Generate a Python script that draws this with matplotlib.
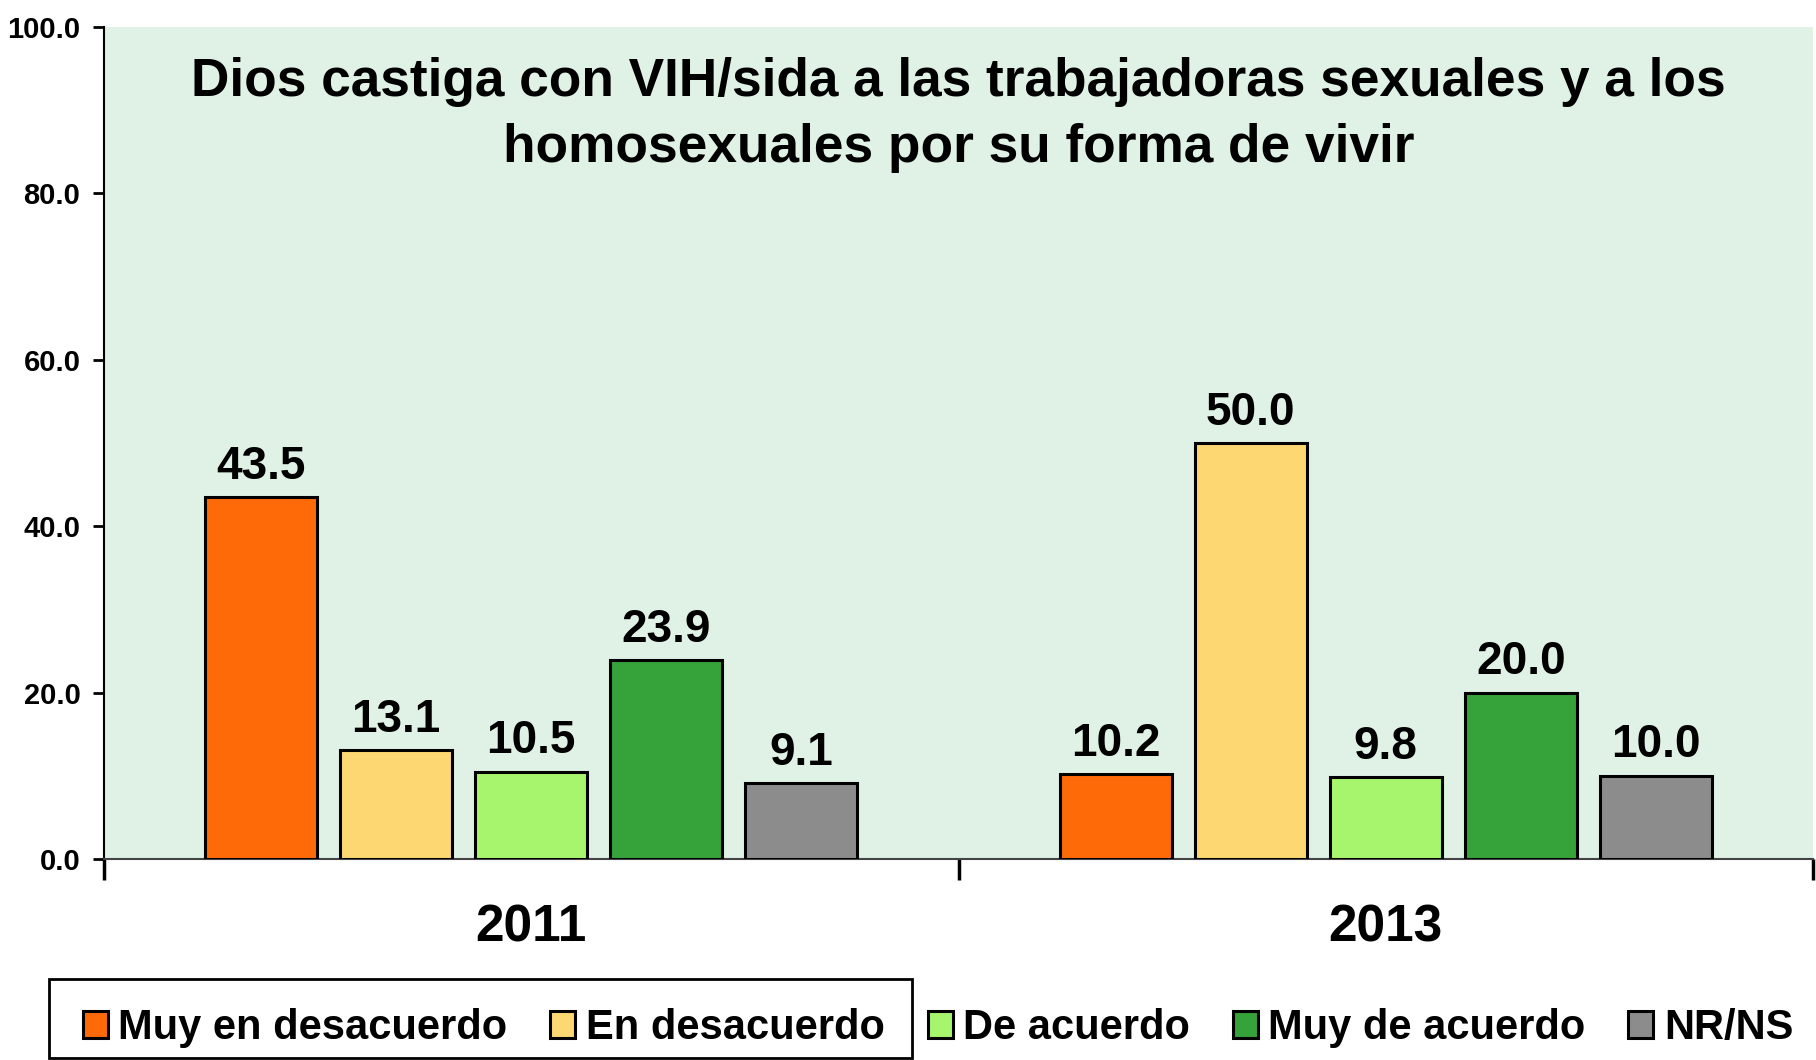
import matplotlib
matplotlib.use("Agg")
import matplotlib.pyplot as plt
import matplotlib.patches as mpatches
import numpy as np

plt.rcParams['font.family'] = ['Liberation Sans', 'DejaVu Sans']

years = ["2011", "2013"]
series = ["Muy en desacuerdo", "En desacuerdo", "De acuerdo", "Muy de acuerdo", "NR/NS"]
values_2011 = [43.5, 13.1, 10.5, 23.9, 9.1]
values_2013 = [10.2, 50.0, 9.8, 20.0, 10.0]
colors = ["#FF6A08", "#FDD872", "#A6F56C", "#36A23A", "#8C8C8C"]
yticks = [0, 20, 40, 60, 80, 100]
title = "Dios castiga con VIH/sida a las trabajadoras sexuales y a los\nhomosexuales por su forma de vivir"

W, H = 1816, 1060
fig = plt.figure(figsize=(W / 100, H / 100), dpi=100)
ax = fig.add_axes([104 / W, 1 - 859 / H, (1813 - 104) / W, (859 - 27) / H])
ax.set_facecolor("#E0F1E5")

data = np.array([values_2011, values_2013])
x = np.arange(len(years))
slot = 0.158
bw = 0.131
handles = []
for i, name in enumerate(series):
    pos = x + (i - 2) * slot
    bars = ax.bar(pos, data[:, i], width=bw, color=colors[i], edgecolor="black",
                  linewidth=2.2, label=name, zorder=3)
    handles.append(bars)
    for b, v in zip(bars, data[:, i]):
        ax.annotate(f"{v:.1f}", (b.get_x() + b.get_width() / 2, v),
                    xytext=(0, 6), textcoords="offset points",
                    ha="center", va="bottom", fontsize=33, fontweight="bold")

ax.set_xlim(-0.5, 1.5)
ax.set_ylim(0, 100)
ax.set_yticks(yticks)
ax.set_yticklabels([f"{t:.1f}" for t in yticks], fontsize=21, fontweight="bold",
                   family=['Liberation Sans Narrow', 'Liberation Sans'])
ax.tick_params(axis="y", direction="out", length=8, width=2, pad=9)

ax.set_xticks(x)
ax.set_xticklabels(years, fontsize=37, fontweight="bold")
ax.tick_params(axis="x", which="major", length=0, pad=32)
ax.set_xticks([-0.5, 0.5, 1.5], minor=True)
ax.tick_params(axis="x", which="minor", direction="out", length=15, width=2.5)

for s in ["top", "right"]:
    ax.spines[s].set_visible(False)
ax.spines["left"].set_linewidth(1.5)
ax.spines["bottom"].set_color("#444444")
ax.spines["bottom"].set_linewidth(1.5)

ax.text(0.5, (859 - 115) / (859 - 27), title, transform=ax.transAxes, ha="center",
        va="center", fontsize=38.3, fontweight="bold", linespacing=1.42, zorder=5)

leg = fig.legend(handles=handles, labels=series, loc="center left",
                 bbox_to_anchor=(83 / W, 1 - 1028 / H), ncol=5, frameon=False,
                 prop={"weight": "bold", "size": 30.0},
                 handlelength=0.6, handleheight=0.6, handletextpad=0.25,
                 columnspacing=1.03, borderpad=0, borderaxespad=0)

rect = mpatches.Rectangle((49 / W, 1 - 1058 / H), (912 - 49) / W, (1058 - 979) / H,
                          transform=fig.transFigure, fill=False, edgecolor="black",
                          linewidth=2)
fig.patches.append(rect)

fig.savefig("out.png", dpi=100, facecolor="white")
